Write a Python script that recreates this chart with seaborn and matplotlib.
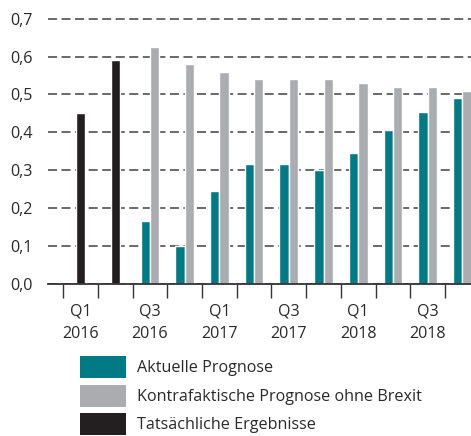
import matplotlib
matplotlib.use("Agg")
import matplotlib.pyplot as plt
import seaborn as sns
import pandas as pd
import numpy as np
from matplotlib.patches import Patch

# ---- data ----
quarters = ["Q1 2016", "Q2 2016", "Q3 2016", "Q4 2016",
            "Q1 2017", "Q2 2017", "Q3 2017", "Q4 2017",
            "Q1 2018", "Q2 2018", "Q3 2018", "Q4 2018"]
actual = [0.45, 0.59, None, None, None, None, None, None, None, None, None, None]
current = [None, None, 0.165, 0.10, 0.245, 0.315, 0.315, 0.30, 0.345, 0.405, 0.455, 0.49]
counterfactual = [None, None, 0.625, 0.58, 0.56, 0.54, 0.54, 0.54, 0.53, 0.52, 0.52, 0.51]
tick_quarters = ["Q1 2016", "Q3 2016", "Q1 2017", "Q3 2017", "Q1 2018", "Q3 2018"]
tick_labels = ["Q1\n2016", "Q3\n2016", "Q1\n2017", "Q3\n2017", "Q1\n2018", "Q3\n2018"]
y_values = [0.0, 0.1, 0.2, 0.3, 0.4, 0.5, 0.6, 0.7]
y_labels = ["0,0", "0,1", "0,2", "0,3", "0,4", "0,5", "0,6", "0,7"]
series_names = ["Aktuelle Prognose", "Kontrafaktische Prognose ohne Brexit", "Tatsächliche Ergebnisse"]

TEAL = "#007A85"
GRAY = "#ABACB0"
BLACK = "#231F20"
TXT = "#2a2a2a"

df_actual = pd.DataFrame({"quarter": quarters, "value": actual}).dropna()
df_fc = pd.concat([
    pd.DataFrame({"quarter": quarters, "value": current, "series": series_names[0]}),
    pd.DataFrame({"quarter": quarters, "value": counterfactual, "series": series_names[1]}),
]).dropna()

sns.set_style("white")
plt.rcParams["font.family"] = ["Open Sans", "DejaVu Sans"]
FS = 11.6

fig = plt.figure(figsize=(4.71, 4.36), dpi=100)
W, H = 471, 436
ax = fig.add_axes([48 / W, (H - 283.7) / H, 423 / W, (283.7 - 15) / H])

sns.barplot(data=df_actual, x="quarter", y="value", order=quarters,
            color=BLACK, saturation=1, width=0.27, errorbar=None, ax=ax)
sns.barplot(data=df_fc, x="quarter", y="value", hue="series", order=quarters,
            hue_order=series_names[:2], palette=[TEAL, GRAY], saturation=1,
            width=0.54, dodge=True, errorbar=None, legend=False, ax=ax)

ax.set_xlim(-0.94, 11.25)
ax.set_ylim(0, 0.71)
ax.set_xlabel("")
ax.set_ylabel("")

# grid
ax.set_axisbelow(True)
ax.set_yticks(y_values)
ax.set_yticklabels(y_labels)
ax.yaxis.grid(True, linestyle=(0, (5, 2.5)), color="#5e5e5e", linewidth=1.3)
ax.xaxis.grid(False)
ax.tick_params(axis="y", length=0, pad=11, labelsize=FS, labelcolor=TXT)

# x ticks: boundaries as major ticks, labels as minor
ax.set_xticks(np.arange(-0.5, 11.5, 1.0))
ax.set_xticklabels([])
ax.set_xticks([quarters.index(q) for q in tick_quarters], minor=True)
ax.set_xticklabels(tick_labels, minor=True, linespacing=1.6)
ax.tick_params(axis="x", which="both", bottom=True)
ax.tick_params(axis="x", which="major", length=10, width=1.0, color="#333333", direction="out")
ax.tick_params(axis="x", which="minor", length=0, pad=14, labelsize=FS, labelcolor=TXT)

for s in ["top", "right", "left"]:
    ax.spines[s].set_visible(False)
ax.spines["bottom"].set_color("#333333")
ax.spines["bottom"].set_linewidth(1.3)

# legend
fs_px = FS * 100 / 72
hh = (22 - 0.245 * fs_px) / (0.65 * fs_px)
handles = [Patch(facecolor=c, edgecolor="none") for c in [TEAL, GRAY, BLACK]]
fig.legend(handles=handles, labels=series_names, loc="upper left",
           bbox_to_anchor=(80 / W, 1 - 356 / H), frameon=False,
           fontsize=FS, labelcolor=TXT, borderpad=0, borderaxespad=0,
           handlelength=46 / fs_px, handleheight=hh,
           handletextpad=11 / fs_px, labelspacing=6.5 / fs_px)

fig.savefig("out.png", dpi=100)
